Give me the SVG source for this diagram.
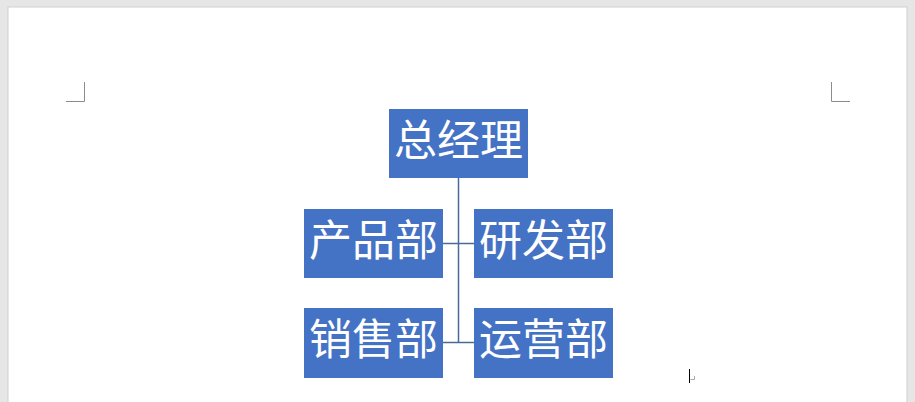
<svg xmlns="http://www.w3.org/2000/svg" width="915" height="402" viewBox="0 0 915 402">
<style>
.box{fill:#4472c4}
.lbl{fill:#ffffff;font-family:"Microsoft YaHei","Noto Sans CJK SC",sans-serif;font-size:43px;text-anchor:middle}
.conn{stroke:#4a6899;stroke-width:1.5;fill:none}
.mark{stroke:#8c8c8c;stroke-width:1;fill:none}
</style>
<rect x="0" y="0" width="915" height="402" fill="#e6e6e6"/>
<rect x="8" y="7" width="899" height="400" fill="#ffffff" stroke="#cfcfcf" stroke-width="1"/>
<path class="mark" d="M84.5 82 V101.5 H66"/>
<path class="mark" d="M831.5 82 V101.5 H850"/>
<g id="connectors">
<path class="conn" d="M458.5 178 V342.5"/>
<path class="conn" d="M443 243.5 H474"/>
<path class="conn" d="M443 342.5 H474"/>
</g>
<g id="n-gm"><rect class="box" x="389" y="109" width="139" height="69"/><text class="lbl" x="458.5" y="156">总经理</text></g>
<g id="n-product"><rect class="box" x="304" y="209" width="139" height="69"/><text class="lbl" x="373.5" y="256">产品部</text></g>
<g id="n-rd"><rect class="box" x="474" y="209" width="139" height="69"/><text class="lbl" x="543.5" y="256">研发部</text></g>
<g id="n-sales"><rect class="box" x="304" y="308" width="139" height="70"/><text class="lbl" x="373.5" y="355">销售部</text></g>
<g id="n-ops"><rect class="box" x="474" y="308" width="139" height="70"/><text class="lbl" x="543.5" y="355">运营部</text></g>
<path d="M689.5 369 V383" stroke="#000" stroke-width="1"/>
<path d="M694.5 376 V379.5 H690.5" stroke="#aaaaaa" stroke-width="1" fill="none"/>
</svg>
